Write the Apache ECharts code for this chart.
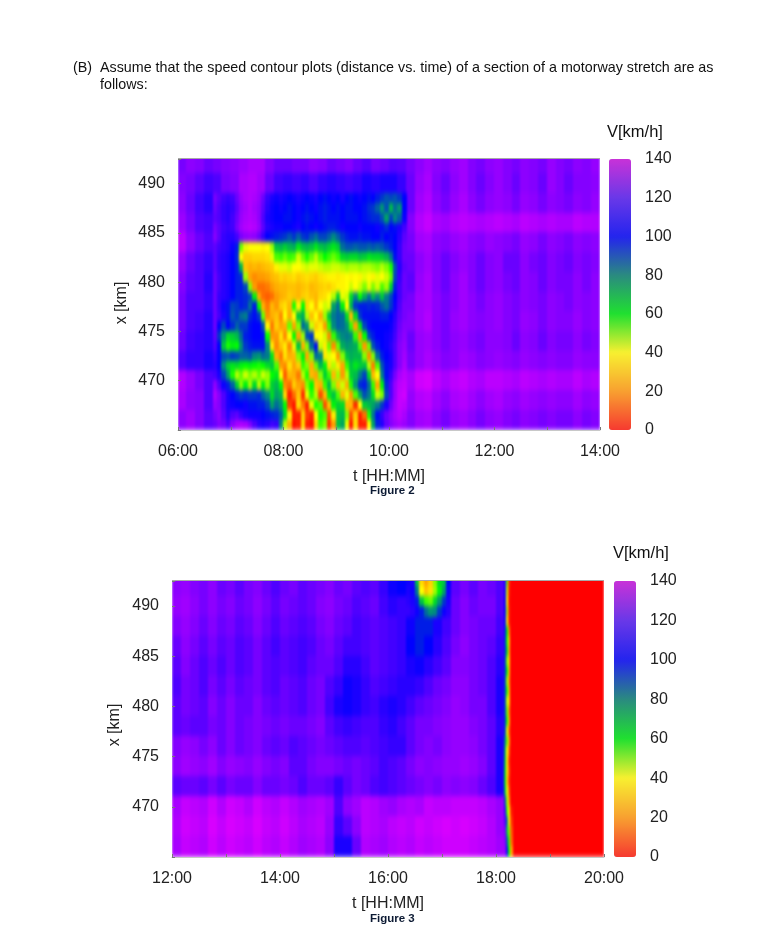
<!DOCTYPE html>
<html><head><meta charset="utf-8">
<style>html,body{margin:0;padding:0;background:#fff}#c{width:776px;height:939px}</style>
<script src="https://cdn.jsdelivr.net/npm/echarts@6/dist/echarts.min.js"></script>
</head><body>
<svg width="0" height="0" style="position:absolute"><filter id="soft" x="0" y="0" width="100%" height="100%" color-interpolation-filters="sRGB"><feGaussianBlur stdDeviation="0.9 2.6"/></filter></svg>
<div id="c"></div>
<script>
// Speeds in km/h. Rows run top (high x) to bottom (low x).
const speedTicks=[0,20,40,60,80,100,120,140];
// Figure 2: 10-min x 2-km cells, 06:00-06:40 (rows 491..465)
const fig2BaseLeft=[
[118,122,120,116],[120,118,114,110],[122,116,110,106],[125,118,112,110],[132,122,116,112],[124,116,112,108],[120,114,112,106],
[118,112,112,108],[118,112,110,106],[116,110,108,106],[112,108,108,104],[130,124,118,112],[128,122,120,112],[122,126,120,114]];
// Figure 2: 10-min x 2-km cells, 06:40-10:20 above the jam (rows 491,489)
const fig2BaseTop=[
[118,120,122,125,128,128,120,116,116,118,118,122,120,116,118,120,116,113,118,116,113,114],
[112,118,120,128,130,126,116,110,108,110,108,112,108,106,108,110,108,104,106,104,104,108]];
// Figure 2: 10-min x 2-km cells, 10:20-14:00 (rows 491..465)
const fig2BaseRight=[
[118,122,126,122,120,124,126,120,118,122,124,120,118,122,120,118,124,120,118,122,120,124],
[116,124,128,120,116,122,126,120,116,120,124,120,116,122,120,116,124,120,116,120,120,122],
[116,126,130,122,118,124,128,122,118,122,124,122,118,124,122,118,122,120,118,122,120,124],
[120,130,134,128,126,130,132,130,128,130,132,130,128,132,130,128,130,128,128,132,130,130],
[118,126,128,122,120,124,126,122,120,124,122,120,118,124,122,118,122,120,118,122,120,122],
[116,122,126,120,116,120,124,120,116,120,122,116,116,122,118,116,120,118,116,120,118,120],
[114,124,128,120,116,122,126,120,116,120,122,118,116,122,120,116,120,118,118,122,118,122],
[118,126,128,122,118,122,126,122,118,122,124,120,118,122,120,118,122,120,118,122,120,122],
[120,126,130,122,118,124,126,122,120,122,124,120,118,124,122,118,122,120,120,124,120,122],
[116,124,126,122,118,122,124,120,118,122,122,120,116,122,120,116,120,118,118,122,118,120],
[118,124,128,124,120,122,126,124,120,122,124,122,120,124,122,120,122,120,120,124,122,122],
[128,136,138,132,128,132,134,130,128,132,132,130,128,132,130,128,130,128,128,132,128,130],
[124,130,132,126,122,128,130,126,122,126,128,124,122,126,124,122,124,122,122,126,122,124],
[120,126,128,122,118,124,126,122,118,122,124,120,118,122,120,118,120,118,118,122,118,120]];
// Figure 2: 5-min x 1-km cells, 06:40-10:20 (rows 488..465)
const fig2Jam=[
[118,114,110,108,110,116,124,128,130,128,124,116,108,104,102,104,102,100,102,104,102,100,102,104,100,98,100,102,100,104,100,98,100,102,100,98,100,96,92,88,90,88,92,100],
[116,112,108,106,108,114,122,126,130,126,122,114,106,102,100,102,100,98,100,102,100,98,100,102,98,96,98,100,98,100,98,98,100,100,98,94,92,86,78,88,72,84,78,100],
[114,112,108,106,110,116,124,128,130,128,122,112,104,102,100,100,98,98,100,102,98,96,98,100,98,96,98,98,98,100,98,98,98,100,98,96,94,94,88,76,90,80,86,102],
[118,114,110,108,110,118,126,130,132,130,124,114,106,104,102,102,100,100,102,104,100,98,100,102,100,98,96,96,98,102,100,100,100,102,100,100,100,102,98,94,100,98,104,110],
[120,114,108,106,106,110,118,122,124,122,116,108,100,98,96,94,92,88,92,86,92,94,88,84,90,90,86,80,86,92,96,98,98,96,98,98,100,100,96,100,98,100,106,114],
[114,110,108,106,102,96,52,42,40,40,40,38,40,48,70,72,68,72,74,64,70,72,70,64,70,72,68,64,68,84,88,88,86,88,88,86,88,86,88,92,96,100,108,116],
[114,108,106,104,100,94,40,30,30,32,32,32,34,42,54,56,52,56,54,44,52,58,52,46,54,60,56,52,56,66,68,66,66,70,68,64,66,66,68,72,82,98,108,116],
[114,108,106,104,100,96,72,28,24,26,24,26,28,30,38,42,42,44,40,40,42,44,42,42,44,46,46,44,44,46,48,46,46,48,46,46,48,50,46,50,58,88,106,114],
[116,110,106,104,100,96,94,48,22,18,20,20,22,26,28,32,30,32,34,30,32,34,32,30,34,36,38,38,36,38,40,38,40,38,42,40,38,42,40,44,52,90,108,116],
[116,110,106,104,100,96,96,90,50,20,14,14,16,20,24,26,26,28,28,26,28,30,26,28,30,32,30,34,38,38,40,44,40,44,50,42,50,44,54,48,68,96,110,116],
[116,108,106,104,100,96,96,94,90,62,22,14,12,14,20,24,26,30,28,26,30,32,28,26,32,34,40,46,68,42,44,66,80,60,74,84,72,80,70,82,90,100,110,116],
[116,108,102,98,90,92,96,94,84,96,60,24,16,26,20,30,34,26,58,38,60,32,40,26,40,44,42,76,84,62,40,72,92,96,96,94,96,94,88,84,92,102,112,118],
[116,110,104,98,88,92,84,82,94,98,92,52,18,24,28,18,40,24,40,70,74,46,28,40,24,48,70,82,86,84,66,26,66,92,98,98,98,98,96,96,100,106,114,118],
[116,100,90,100,94,86,92,92,98,100,100,88,38,16,30,22,24,52,22,50,84,78,44,30,36,20,56,80,86,84,78,56,22,62,90,98,100,100,100,100,102,108,116,120],
[114,92,78,66,68,72,84,96,98,100,100,98,60,20,20,34,18,40,60,22,48,88,92,40,40,44,18,56,74,80,82,80,56,20,60,90,96,100,100,102,104,110,118,122],
[112,100,70,58,62,60,78,92,96,98,98,98,80,36,18,28,36,18,42,70,24,50,84,98,44,36,52,18,52,74,78,76,74,54,20,52,88,96,100,102,106,112,120,124],
[108,100,90,88,92,90,86,86,88,80,78,84,82,64,24,16,34,24,26,50,62,22,50,84,82,36,42,40,20,50,70,74,72,72,50,18,50,84,96,100,104,112,120,126],
[106,100,80,68,64,66,62,60,62,60,58,60,66,70,54,20,18,34,22,30,56,50,24,52,72,62,34,46,36,22,56,70,64,68,70,46,16,54,88,98,104,112,120,128],
[110,104,90,76,58,46,52,44,50,46,52,44,48,60,64,40,12,26,24,16,46,58,26,22,50,68,56,26,48,20,46,68,72,82,90,66,26,40,82,98,108,118,128,132],
[122,112,102,96,86,68,50,62,48,66,46,62,50,68,72,60,18,14,30,22,18,50,60,28,24,56,72,50,28,44,24,58,78,94,96,84,56,22,62,94,112,124,132,134],
[128,120,112,104,100,96,92,94,92,92,94,86,80,66,76,72,32,4,14,28,6,42,56,46,10,26,62,70,54,26,42,20,54,74,88,82,66,44,50,90,112,124,134,136],
[124,120,112,104,102,100,100,102,98,98,96,96,90,76,84,78,60,8,3,32,16,4,42,58,54,10,28,62,68,66,26,26,6,40,68,72,76,82,92,104,116,126,134,132],
[118,122,114,106,112,114,108,104,102,102,102,100,98,96,94,86,66,38,4,4,30,8,4,40,58,54,10,36,70,72,50,10,30,4,14,58,82,98,108,116,122,128,132,128],
[116,120,118,112,122,128,130,128,120,112,106,104,106,110,108,80,45,24,2,4,32,4,2,32,55,50,6,20,70,75,42,3,32,4,4,40,75,95,105,115,120,125,128,125]];
// Figure 3: 10-min x 2-km cells, 12:00-18:20 (rows 491..465)
const fig3Base=[
[122,124,120,118,122,116,118,114,118,120,116,112,116,118,114,116,118,120,116,118,114,112,114,108,102,100,104,100,100,104,108,114,118,114,118,116,112,106],
[124,126,122,118,122,118,120,116,118,122,118,114,118,116,114,116,120,122,118,116,112,114,116,110,106,108,104,100,100,106,110,116,120,116,118,118,112,104],
[120,124,120,116,120,116,118,114,116,120,116,112,116,114,112,114,118,120,116,114,110,112,114,112,110,108,102,96,96,104,110,116,120,118,116,116,110,102],
[116,122,118,114,118,114,116,112,114,118,114,110,114,112,110,112,116,118,114,110,110,112,114,112,110,108,100,96,100,106,112,118,122,118,116,114,108,100],
[114,120,116,112,116,112,116,112,114,118,114,112,114,112,110,114,116,116,112,106,106,110,114,112,110,108,104,102,106,110,114,120,120,118,116,112,106,98],
[112,118,116,112,118,114,118,114,116,118,114,112,116,114,112,116,118,112,108,102,104,108,112,110,108,106,106,108,112,116,118,122,122,118,116,112,104,96],
[114,118,116,114,120,116,120,116,116,120,116,114,116,114,112,116,118,110,104,102,104,108,110,106,104,106,110,114,116,118,120,124,122,118,118,112,104,98],
[114,116,114,114,118,116,120,116,118,120,118,116,118,116,116,118,120,114,110,108,110,112,112,108,106,110,114,118,118,120,122,124,124,120,118,114,106,98],
[120,124,122,118,122,116,120,116,118,120,116,114,116,112,114,116,118,116,114,112,112,114,112,110,108,108,114,118,120,118,122,124,124,122,118,114,104,96],
[122,126,124,122,126,120,124,122,120,124,120,118,120,114,114,118,120,120,118,116,118,116,114,110,112,114,118,122,120,122,124,124,126,124,120,114,104,94],
[114,116,116,114,118,114,118,116,116,120,116,116,118,116,112,116,116,114,108,114,118,116,112,110,112,114,116,118,120,118,122,120,122,120,116,112,104,94],
[128,134,132,130,136,130,136,134,130,136,132,130,134,130,126,128,130,126,112,122,126,132,130,126,124,128,130,128,134,132,132,134,134,134,132,128,124,112],
[130,136,134,132,138,134,138,136,134,138,134,132,136,132,128,130,132,124,108,114,122,132,130,128,132,134,132,136,134,136,138,136,138,136,134,130,124,112],
[128,134,132,130,136,132,136,134,132,136,132,130,134,130,126,128,130,122,104,104,116,130,128,126,130,132,130,134,132,134,136,136,136,134,132,130,126,118]];
// Figure 3: closed road, 18:20-20:00, one band over the whole stretch
const fig3Closed=[[0,0,0,0,0,0,0,0,0,0]];
// Figure 3: 2.5-min x 1-km cells at the closure front, 18:09-18:24 (rows 492..465)
const fig3Front=[
[104,52,8,0,0,0],[102,44,6,0,0,0],[100,40,4,0,0,0],[100,46,6,0,0,0],[98,38,6,0,0,0],[96,62,18,0,0,0],[94,58,28,0,0,0],
[94,66,24,0,0,0],[92,50,30,0,0,0],[92,62,26,0,0,0],[90,48,20,0,0,0],[90,58,26,0,0,0],[90,44,30,0,0,0],[90,52,18,0,0,0],
[92,58,24,0,0,0],[90,42,14,0,0,0],[82,52,22,0,0,0],[76,40,14,0,0,0],[72,36,8,0,0,0],[68,34,12,0,0,0],[66,30,8,0,0,0],
[72,42,14,0,0,0],[90,48,22,0,0,0],[108,56,38,4,0,0],[112,84,40,8,0,0],[118,72,50,12,0,0],[120,88,56,14,0,0],[124,102,60,22,0,0]];
// Figure 3: 5-min x 1-km cells, jam at the top, 16:20-17:10 (rows 492..489)
const fig3Jam=[
[102,104,70,32,22,30,50,66,70,100],
[104,102,82,40,28,34,48,62,76,102],
[106,104,96,70,55,52,66,78,92,104],
[108,106,102,96,84,78,80,92,102,106]];

const FONT='"Liberation Sans",Arial,sans-serif';
const plotColors=['#ff0000','#ff9a00','#ffff00','#00ff00','#008a80','#0000ff','#8400ff','#e000ff'];
const barColors=['#f63a30','#f8a030','#f8f030','#20e030','#2a8a80','#2424ee','#6a38e8','#c832d8'];

function layer(rows,t0,dt,topX,dx,gridIndex){
  const data=[];
  rows.forEach((r,ri)=>r.forEach((v,ci)=>data.push([t0+ci*dt,topX-ri*dx,v])));
  return {
    type:'custom',coordinateSystem:'cartesian2d',xAxisIndex:gridIndex,yAxisIndex:gridIndex,zlevel:1,
    clip:false,silent:true,animation:false,progressive:0,
    encode:{x:0,y:1},data,
    renderItem(p,api){
      const a=api.coord([api.value(0),api.value(1)+dx]);
      const b=api.coord([api.value(0)+dt,api.value(1)]);
      const x=Math.floor(a[0]),y=Math.floor(a[1]);
      return {type:'rect',shape:{x,y,width:Math.ceil(b[0])-x,height:Math.ceil(b[1])-y},
        style:{fill:api.visual('color')}};
    }
  };
}
const hhmm=v=>{const h=v/60;return (Number.isInteger(h)&&h%2===0)?String(h).padStart(2,'0')+':00':'';};
const lab={color:'#222',fontFamily:FONT,fontSize:16};
function xAx(i,min,max){return {gridIndex:i,zlevel:2,type:'value',min,max,interval:60,name:'t [HH:MM]',nameLocation:'middle',nameGap:39,
  nameMoveOverlap:false,nameTextStyle:{...lab},axisLine:{lineStyle:{color:'#c8c8c8'}},axisTick:{inside:true,length:3,lineStyle:{color:'#777'}},
  axisLabel:{...lab,margin:14,hideOverlap:false,showMinLabel:true,showMaxLabel:true,formatter:hhmm},splitLine:{show:false}};}
function yAx(i,gap,pad){return {gridIndex:i,zlevel:2,type:'value',min:465,max:492.5,interval:5,name:'x [km]',nameLocation:'middle',nameGap:gap,
  nameMoveOverlap:false,nameTextStyle:{...lab,padding:[0,pad,0,0]},axisLine:{show:false},axisTick:{inside:true,length:3,lineStyle:{color:'#777'}},
  axisLabel:{...lab,margin:13,padding:[2,0,0,0],formatter:v=>(v>465&&v<492)?String(v):''},splitLine:{show:false}};}
function barAx(i){return {gridIndex:i,zlevel:2,type:'value',position:'right',min:speedTicks[0],max:speedTicks[speedTicks.length-1],interval:20,
  axisLine:{show:false},axisTick:{show:false},axisLabel:{...lab,margin:14,padding:[2,0,0,0]},splitLine:{show:false}};}
function hiddenX(i){return {gridIndex:i,type:'value',min:0,max:1,show:false};}
function vm(left,top,h,si){return {type:'continuous',min:0,max:140,dimension:2,seriesIndex:si,left,top,itemWidth:22,itemHeight:h,
  padding:0,calculable:false,hoverLink:false,text:null,showLabel:false,inRange:{color:plotColors},
  controller:{inRange:{color:barColors}}};}
function txt(text,x,y,o){return {type:'text',x,y,silent:true,style:{text,fill:'#111',font:'14.3px '+FONT,...o}};}
function frameTop(x1,x2,y){return {type:'line',silent:true,shape:{x1,y1:y,x2,y2:y},style:{stroke:'#a8a8a8',lineWidth:1}};}

const chart=echarts.init(document.getElementById('c'),null,{renderer:'canvas',width:776,height:939});
chart.setOption({
  animation:false,backgroundColor:'#fff',
  grid:[
    {left:178,top:159,width:422,height:271},
    {left:172,top:581,width:432,height:276},
    {left:609,top:159,width:22,height:271},
    {left:614,top:581,width:22,height:276}
  ],
  xAxis:[xAx(0,360,840),xAx(1,720,1200),hiddenX(2),hiddenX(3)],
  yAxis:[yAx(0,48,17),yAx(1,49,12),barAx(2),barAx(3)],
  visualMap:[vm(609,159,271,[0,1,2,3]),vm(614,581,276,[4,5,6,7])],
  series:[
    layer(fig2BaseLeft,360,10,491,2,0),
    layer(fig2BaseTop,400,10,491,2,0),
    layer(fig2BaseRight,620,10,491,2,0),
    layer(fig2Jam,400,5,488,1,0),
    layer(fig3Base,720,10,491,2,1),
    layer(fig3Closed,1100,10,465,28,1),
    layer(fig3Front,1089,2.5,492,1,1),
    layer(fig3Jam,980,5,492,1,1)
  ],
  graphic:[
    frameTop(178,600,158.5),
    frameTop(172,604,580.5),
    txt('(B)',73,61,{}),
    txt('Assume that the speed contour plots (distance vs. time) of a section of a motorway stretch are as',100,61,{}),
    txt('follows:',100,78,{}),
    txt('V[km/h]',607,124,{font:'16.5px '+FONT}),
    txt('V[km/h]',613,545,{font:'16.5px '+FONT}),
    txt('Figure 2',370,485,{font:'bold 11.5px '+FONT,fill:'#0c1a33'}),
    txt('Figure 3',370,913,{font:'bold 11.5px '+FONT,fill:'#0c1a33'})
  ]
});
// Soften the coarse speed cells like the reference's smoothed raster; edges stay sharp on the plot frames.
const plotLayer=chart.getZr().painter.getLayer(1);
if(plotLayer&&plotLayer.dom){
  plotLayer.dom.style.filter='url(#soft)';
  plotLayer.dom.style.clipPath="path('M178 159h422v271h-422z M172 581h432v276h-432z')";
}
</script></body></html>
